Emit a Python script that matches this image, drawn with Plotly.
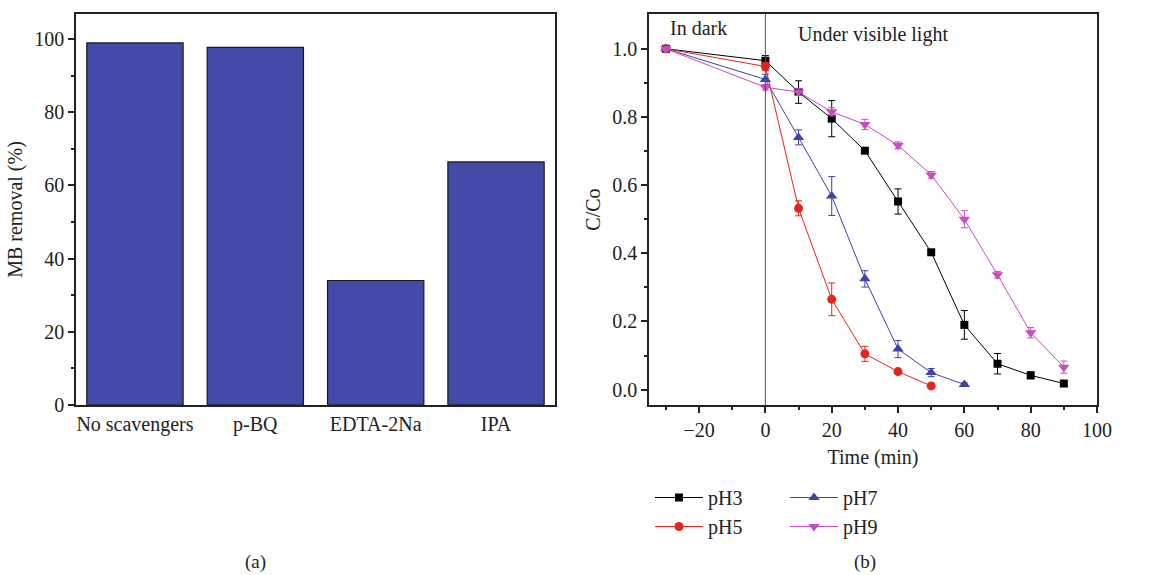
import plotly.graph_objects as go

# Panel (a) data
scavengers = ["No scavengers", "p-BQ", "EDTA-2Na", "IPA"]
removal = [98.9, 97.7, 34.0, 66.4]

# Panel (b) data
time_ph3 = [-30, 0, 10, 20, 30, 40, 50, 60, 70, 80, 90]
ph3 = [1.0, 0.965, 0.873, 0.795, 0.701, 0.552, 0.403, 0.19, 0.076, 0.042, 0.018]
ph3_err = [0.005, 0.015, 0.033, 0.053, 0.008, 0.037, 0.005, 0.042, 0.03, 0.01, 0.005]

time_ph5 = [-30, 0, 10, 20, 30, 40, 50]
ph5 = [1.0, 0.948, 0.532, 0.265, 0.105, 0.053, 0.011]
ph5_err = [0.005, 0.012, 0.022, 0.048, 0.022, 0.006, 0.005]

time_ph7 = [-30, 0, 10, 20, 30, 40, 50, 60]
ph7 = [1.0, 0.91, 0.74, 0.568, 0.325, 0.119, 0.05, 0.015]
ph7_err = [0.005, 0.015, 0.022, 0.057, 0.024, 0.025, 0.012, 0.005]

time_ph9 = [-30, 0, 10, 20, 30, 40, 50, 60, 70, 80, 90]
ph9 = [1.0, 0.887, 0.873, 0.815, 0.778, 0.717, 0.63, 0.50, 0.337, 0.167, 0.066]
ph9_err = [0.005, 0.008, 0.01, 0.012, 0.015, 0.01, 0.01, 0.025, 0.01, 0.015, 0.018]

FONT = "Liberation Serif"
FS = 20
bar_color = "#444aa7"
c3, c5, c7, c9 = "#000000", "#e2261c", "#3e43a9", "#c84ec0"

fig = go.Figure()

fig.add_trace(go.Bar(
    x=scavengers, y=removal, width=0.8,
    marker=dict(color=bar_color, line=dict(color="#1a1a1a", width=1.2)),
    showlegend=False, xaxis="x", yaxis="y",
))

def series(t, y, e, name, color, symbol, size, legend):
    fig.add_trace(go.Scatter(
        x=t, y=y, name=name, mode="lines+markers",
        line=dict(color=color, width=1),
        marker=dict(color=color, symbol=symbol, size=size),
        error_y=dict(type="data", array=e, color=color, thickness=1, width=3.5),
        xaxis="x2", yaxis="y2", legend=legend,
    ))

series(time_ph3, ph3, ph3_err, "pH3", c3, "square", 8, "legend")
series(time_ph5, ph5, ph5_err, "pH5", c5, "circle", 9, "legend")
series(time_ph7, ph7, ph7_err, "pH7", c7, "triangle-up", 10, "legend2")
series(time_ph9, ph9, ph9_err, "pH9", c9, "triangle-down", 10, "legend2")

axis_common = dict(
    showline=True, linecolor="#222", linewidth=1.5, mirror=True,
    ticks="outside", ticklen=6, tickwidth=1.5, tickcolor="#222",
    showgrid=False, zeroline=False, automargin=False,
    tickfont=dict(family=FONT, size=FS, color="#222"),
)
minor_common = dict(ticks="outside", ticklen=3, tickwidth=1.5, tickcolor="#222")

fig.update_layout(
    template="none",
    width=1151, height=575,
    margin=dict(l=0, r=0, t=0, b=0, pad=0, autoexpand=False),
    plot_bgcolor="white", paper_bgcolor="white",
    font=dict(family=FONT, size=FS, color="#222"),
    xaxis=dict(
        domain=[76/1151, 555/1151], anchor="y", range=[-0.49, 3.49],
        showline=True, linecolor="#222", linewidth=1.5, mirror=True,
        ticks="", showgrid=False, zeroline=False, automargin=False,
        tickfont=dict(family=FONT, size=FS, color="#222"),
    ),
    yaxis=dict(
        domain=[1-405/575, 1-14/575], anchor="x", range=[0, 106.8],
        tickvals=[0, 20, 40, 60, 80, 100],
        minor=dict(tickvals=[10, 30, 50, 70, 90], **minor_common),
        title=dict(text="MB removal (%)", font=dict(family=FONT, size=FS), standoff=6),
        **axis_common,
    ),
    xaxis2=dict(
        domain=[649/1151, 1097/1151], anchor="y2", range=[-35.1, 100],
        tickvals=[-20, 0, 20, 40, 60, 80, 100],
        ticktext=["\u221220", "0", "20", "40", "60", "80", "100"],
        minor=dict(tickvals=[-30, -10, 10, 30, 50, 70, 90], **minor_common),
        title=dict(text="Time (min)", font=dict(family=FONT, size=FS), standoff=10),
        **axis_common,
    ),
    yaxis2=dict(
        domain=[1-405/575, 1-14/575], anchor="x2", range=[-0.045, 1.102],
        tickvals=[0, 0.2, 0.4, 0.6, 0.8, 1.0], tickformat=".1f",
        minor=dict(tickvals=[0.1, 0.3, 0.5, 0.7, 0.9], **minor_common),
        title=dict(text="C/Co", font=dict(family=FONT, size=FS), standoff=6),
        **axis_common,
    ),
    legend=dict(x=650/1151, y=1-478/575, xanchor="left", yanchor="top",
                orientation="v", bgcolor="rgba(0,0,0,0)", tracegroupgap=0,
                font=dict(family=FONT, size=FS), itemwidth=48),
    legend2=dict(x=785/1151, y=1-478/575, xanchor="left", yanchor="top",
                 orientation="v", bgcolor="rgba(0,0,0,0)", tracegroupgap=0,
                 font=dict(family=FONT, size=FS), itemwidth=48),
    shapes=[dict(type="line", xref="x2", yref="paper", x0=0, x1=0,
                 y0=1-405/575, y1=1-14/575, line=dict(color="#555", width=1))],
    annotations=[
        dict(text="In dark", xref="paper", yref="paper", x=668/1151, y=1-28/575, xanchor="left",
             yanchor="middle", showarrow=False, font=dict(family=FONT, size=FS)),
        dict(text="Under visible light", xref="paper", yref="paper", x=796/1151, y=1-35/575, xanchor="left",
             yanchor="middle", showarrow=False, font=dict(family=FONT, size=FS)),
        dict(text="(a)", xref="paper", yref="paper", x=255/1151, y=1-562/575,
             xanchor="center", yanchor="middle", showarrow=False, font=dict(family=FONT, size=19)),
        dict(text="(b)", xref="paper", yref="paper", x=865/1151, y=1-562/575,
             xanchor="center", yanchor="middle", showarrow=False, font=dict(family=FONT, size=19)),
    ],
)

fig.write_html("out.html",
               post_script="document.body.style.margin='0';document.body.style.overflow='hidden';")
